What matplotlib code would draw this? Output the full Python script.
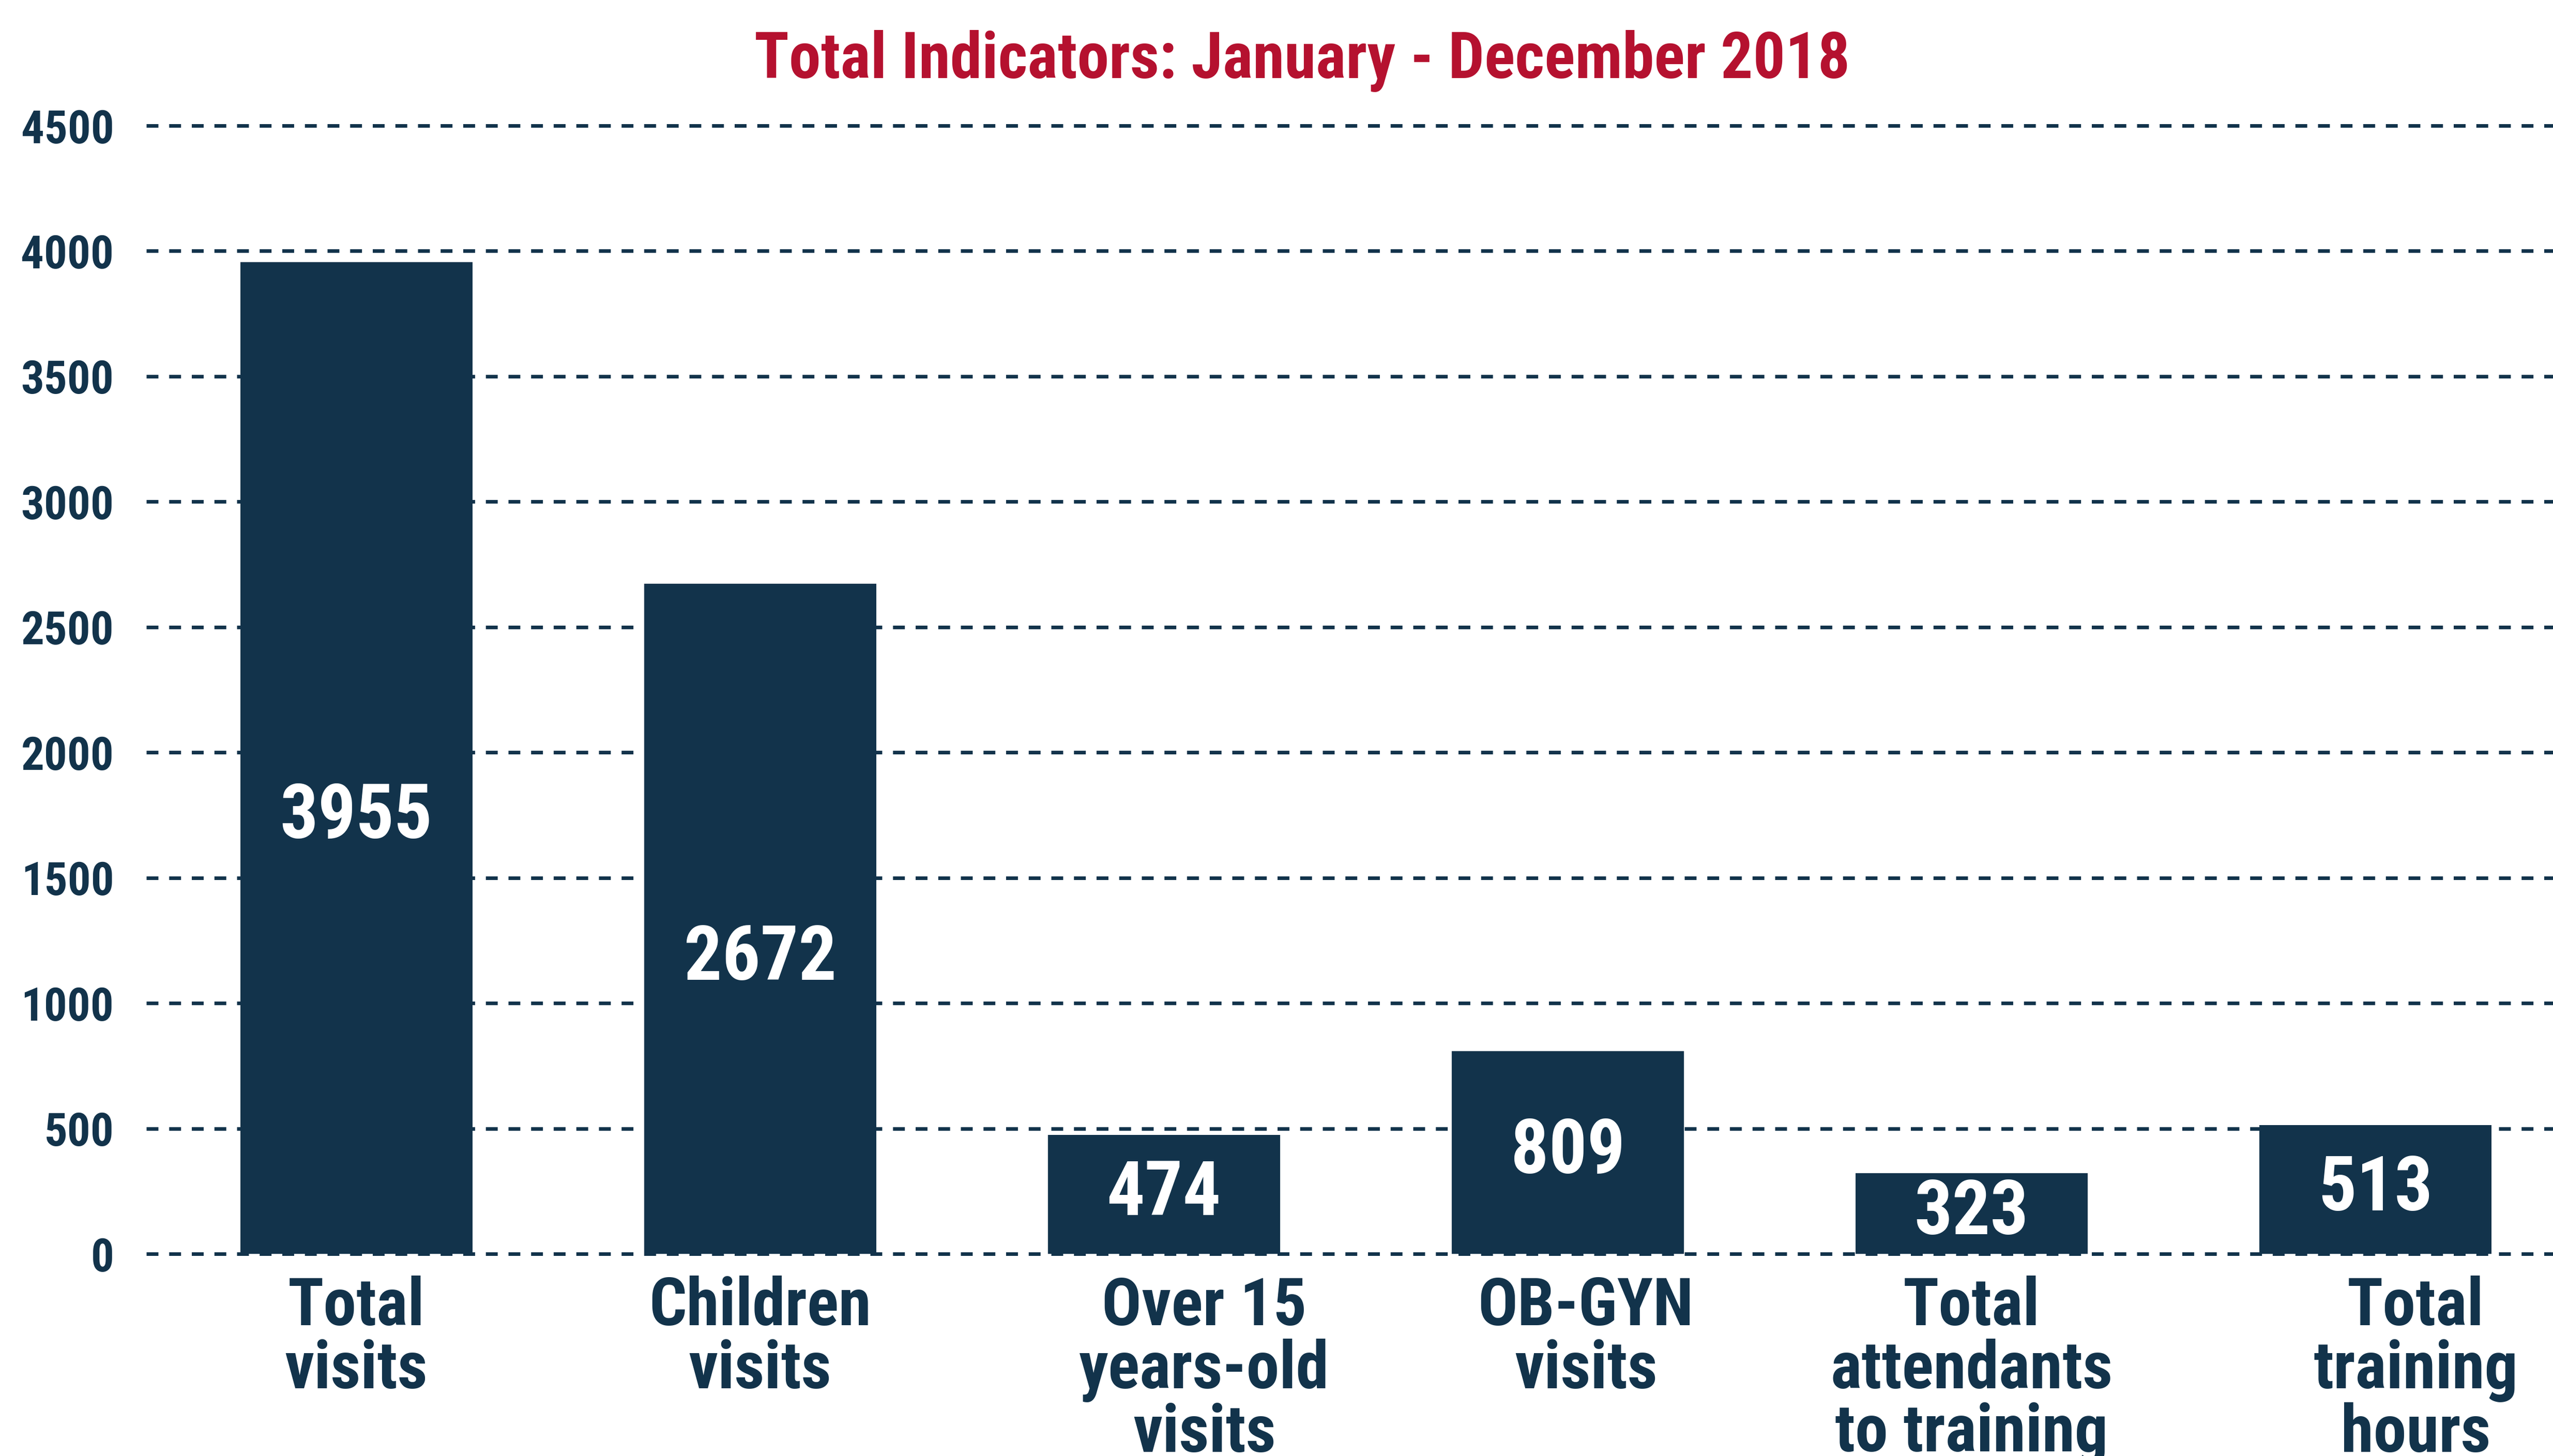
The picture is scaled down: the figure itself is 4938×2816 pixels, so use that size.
import matplotlib
matplotlib.use("Agg")
import matplotlib.pyplot as plt
from matplotlib import font_manager

# Data
categories = [
    "Total\nvisits",
    "Children\nvisits",
    "Over 15\nyears-old\nvisits",
    "OB-GYN\nvisits",
    "Total\nattendants\nto training",
    "Total\ntraining\nhours",
]
values = [3955, 2672, 474, 809, 323, 513]
yticks = [0, 500, 1000, 1500, 2000, 2500, 3000, 3500, 4000, 4500]
title = "Total Indicators: January - December 2018"

navy = "#12334b"
red = "#b5112f"

# pick a narrow font if there is one
installed = {f.name for f in font_manager.fontManager.ttflist}
font = "DejaVu Sans"
for name in ["Roboto Condensed", "Liberation Sans Narrow", "Open Sans Condensed", "Liberation Sans"]:
    if name in installed:
        font = name
        break
plt.rcParams["font.family"] = [font, "DejaVu Sans"]
plt.rcParams["font.weight"] = "bold"

fig = plt.figure(figsize=(49.38, 28.16), dpi=100)
ax = fig.add_axes([0.0573, 0.1388, 0.9427, 0.7749])

x = list(range(len(values)))
ax.bar(x, values, width=0.575, color=navy, zorder=2)

ax.set_xlim(-0.52, 5.44)
ax.set_ylim(0, 4500)
ax.set_yticks(yticks)
ax.set_yticklabels([str(t) for t in yticks], fontsize=64, color=navy, fontweight="bold")
ax.tick_params(axis="y", length=0, pad=45)
ax.set_xticks([])

for t in yticks:
    ax.axhline(t, color=navy, lw=5, linestyle=(0, (3.3, 3.0)), zorder=1, clip_on=False)

for s in ax.spines.values():
    s.set_visible(False)

# value labels inside the bars
for i, v in enumerate(values):
    frac = 0.44 if v > 2000 else 0.5
    ax.text(i, v * frac, str(v), ha="center", va="center", color="white",
            fontsize=105, fontweight="bold", zorder=3)

# category labels below (cut at the bottom edge like the original)
label_shift = [0, 0, 0.1, 0.045, 0, 0.1]
for i, lab in enumerate(categories):
    ax.annotate(lab, xy=(i + label_shift[i], 0), xycoords=("data", "axes fraction"),
                xytext=(0, -30), textcoords="offset points", ha="center", va="top",
                fontsize=92, fontweight="bold", color=navy, linespacing=1.0,
                annotation_clip=False)

fig.text(0.51, 0.958, title, ha="center", va="center", color=red,
         fontsize=89, fontweight="bold")

fig.savefig("out.png", dpi=100, facecolor="white")
